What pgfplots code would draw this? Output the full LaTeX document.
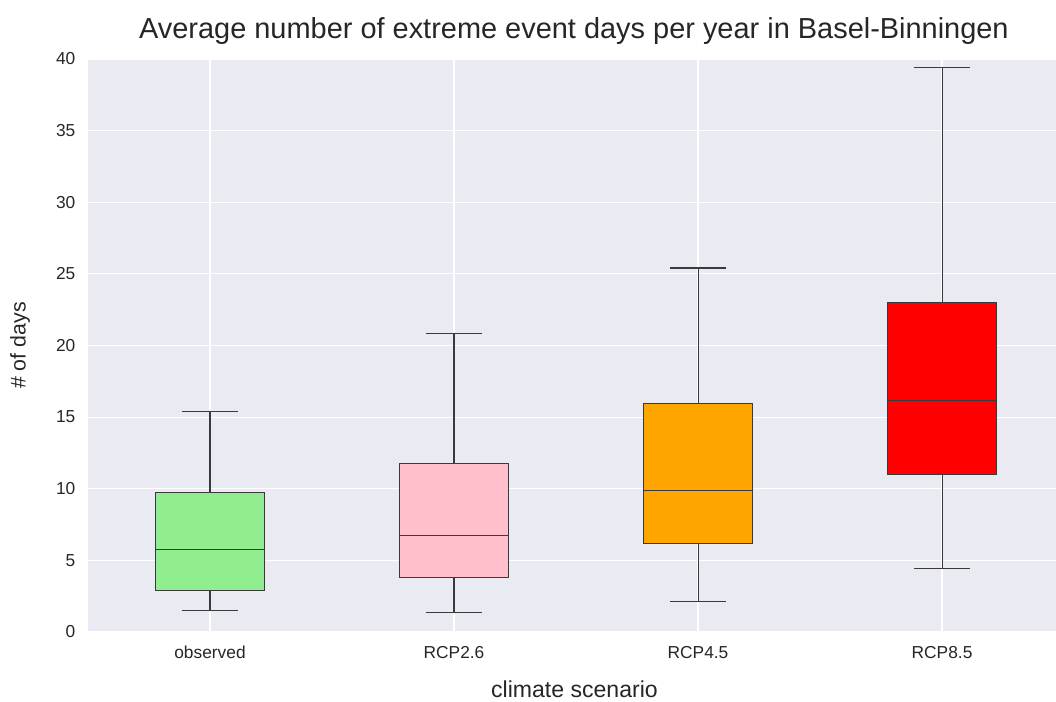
\documentclass[border=0pt]{standalone}
\usepackage{pgfplots}
\usepgfplotslibrary{statistics}
\pgfplotsset{compat=1.18}
\usepackage{fontspec}
\setmainfont{Liberation Sans}

\definecolor{panel}{HTML}{EAEAF2}
\definecolor{edge}{HTML}{3A3A3A}
\definecolor{obsgreen}{HTML}{90EE90}
\definecolor{rcppink}{HTML}{FFC0CB}
\definecolor{rcporange}{HTML}{FFA500}
\definecolor{rcpred}{HTML}{FF0000}
\definecolor{txt}{HTML}{262626}

\begin{document}
\begin{tikzpicture}
\path[use as bounding box] (0,0) rectangle (792pt,526.5pt);
\begin{axis}[
  at={(66pt,52.5pt)}, anchor=south west,
  scale only axis,
  width=726pt, height=429.75pt,
  xmin=-0.5, xmax=3.467,
  ymin=0, ymax=40,
  axis background/.style={fill=panel},
  axis line style={draw=none},
  major tick length=0pt,
  xtick={0,1,2,3},
  xticklabels={observed,RCP2.6,RCP4.5,RCP8.5},
  ytick={0,5,...,40},
  grid=major,
  major grid style={white, line width=0.9pt},
  ticklabel style={font=\fontsize{13}{15}\selectfont, text=txt},
  /pgf/number format/assume math mode=true,
  xticklabel style={anchor=base, yshift=-20pt},
  yticklabel style={xshift=-6pt},
  xlabel={climate scenario},
  ylabel={\# of days},
  xlabel style={font=\fontsize{17.3}{20}\selectfont, text=txt,
    at={(0.5025,0)}, anchor=base, yshift=-49.5pt},
  ylabel style={font=\fontsize{16}{18}\selectfont, text=txt,
    at={(0,0.5)}, anchor=center, yshift=51pt},
  title={Average number of extreme event days per year in Basel-Binningen},
  title style={font=\fontsize{21.7}{25}\selectfont, text=txt,
    at={(0.502,1)}, anchor=base, yshift=9.5pt},
  boxplot/draw direction=y,
  boxplot/box extend=0.45,
  boxplot/whisker extend=0.23,
  clip=false,
]
\addplot[boxplot prepared={draw position=0,
    lower whisker=1.49, lower quartile=2.89, median=5.73,
    upper quartile=9.74, upper whisker=15.41},
  draw=edge, line width=0.8pt, fill=obsgreen] coordinates {};
\addplot[boxplot prepared={draw position=1,
    lower whisker=1.38, lower quartile=3.80, median=6.71,
    upper quartile=11.77, upper whisker=20.86},
  draw=edge, line width=0.8pt, fill=rcppink] coordinates {};
\addplot[boxplot prepared={draw position=2,
    lower whisker=2.15, lower quartile=6.20, median=9.88,
    upper quartile=15.94, upper whisker=25.41},
  draw=edge, line width=0.8pt, fill=rcporange] coordinates {};
\addplot[boxplot prepared={draw position=3,
    lower whisker=4.45, lower quartile=11.01, median=16.19,
    upper quartile=23.02, upper whisker=39.39},
  draw=edge, line width=0.8pt, fill=rcpred] coordinates {};
\end{axis}
\end{tikzpicture}
\end{document}
